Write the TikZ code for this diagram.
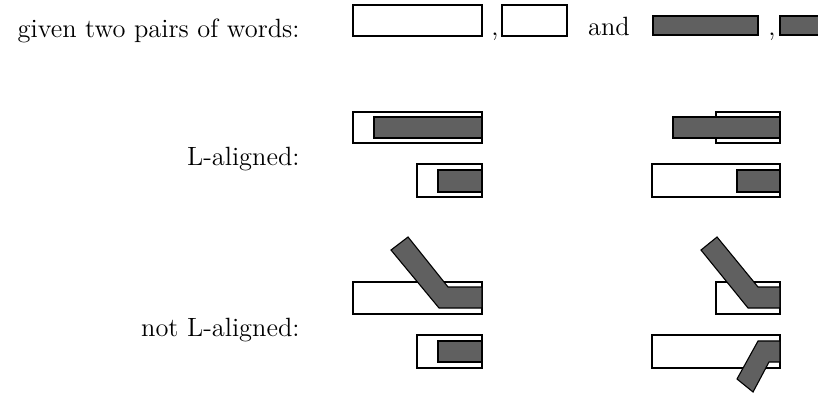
\documentclass[tikz,border=0pt]{standalone}
\usetikzlibrary{positioning}

\definecolor{wordgray}{RGB}{96,96,96}
\tikzset{
  lightword/.style={draw, fill=white, line width=0.5pt},
  darkword/.style={draw, fill=wordgray, line width=0.5pt},
  rowtext/.style={anchor=base east, inner sep=0pt, font=\large},
  midtext/.style={anchor=base, inner sep=0pt, font=\large}
}

\begin{document}
\begin{tikzpicture}[>=latex]
\useasboundingbox (0,0) rectangle (13.067,6.31);
\clip (0,0) rectangle (13.067,6.31);

% the two pairs
\foreach \xa/\ya/\xb/\yb/\kind in
    {5.639/5.735/7.700/6.230/lightword,
     8.019/5.735/9.058/6.230/lightword,
     10.431/5.751/12.109/6.054/darkword,
     12.460/5.751/13.300/6.054/darkword,
    % L-aligned, left
     5.639/4.026/7.700/4.521/lightword,
     5.974/4.105/7.700/4.441/darkword,
     6.661/3.163/7.700/3.690/lightword,
     6.997/3.243/7.700/3.594/darkword,
    % L-aligned, right
     11.438/4.026/12.460/4.521/lightword,
     10.751/4.105/12.460/4.441/darkword,
     10.415/3.163/12.460/3.690/lightword,
     11.773/3.243/12.460/3.594/darkword,
    % not L-aligned
     5.639/1.294/7.700/1.805/lightword,
     6.661/0.431/7.700/0.958/lightword,
     6.997/0.527/7.700/0.863/darkword,
     11.438/1.294/12.460/1.805/lightword,
     10.415/0.431/12.460/0.958/lightword}
    {
    \draw[\kind] (\xa,\ya) rectangle (\xb,\yb);
    }

% bent words
\draw[darkword] (7.700,1.725) -- (7.157,1.725) -- (6.518,2.524) -- (6.246,2.316)
    -- (7.013,1.390) -- (7.700,1.390) -- cycle;
\draw[darkword] (12.460,1.725) -- (12.109,1.725) -- (11.454,2.524) -- (11.198,2.316)
    -- (11.949,1.390) -- (12.460,1.390) -- cycle;
\draw[darkword] (12.460,0.863) -- (12.109,0.863) -- (11.773,0.256) -- (12.029,0.048)
    -- (12.284,0.527) -- (12.460,0.527) -- cycle;

\node[rowtext] (given) at (4.792,5.719) {given two pairs of words:};
\node[midtext] (commaA) at (7.907,5.735) {,};
\node[midtext] (and) at (9.728,5.735) {and};
\node[midtext] (commaB) at (12.332,5.735) {,};
\node[rowtext] (aligned) at (4.792,3.674) {L-aligned:};
\node[rowtext] (notaligned) at (4.792,0.927) {not L-aligned:};

\end{tikzpicture}
\end{document}
